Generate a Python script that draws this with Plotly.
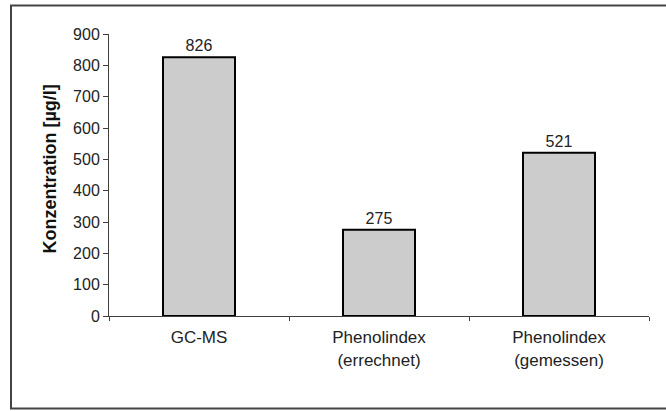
import plotly.graph_objects as go

# Concentration of phenols determined by different methods
categories = ["GC-MS", "Phenolindex<br>(errechnet)", "Phenolindex<br>(gemessen)"]
values = [826, 275, 521]
y_ticks = [0, 100, 200, 300, 400, 500, 600, 700, 800, 900]

W, H = 666, 411
ML, MR, MT, MB = 109, 17, 34, 95
plot_w = W - ML - MR
plot_h = H - MT - MB

FONT = "Liberation Sans, Arial, sans-serif"

fig = go.Figure(
    go.Bar(
        x=categories,
        y=values,
        width=0.4,
        marker=dict(color="#cccccc", line=dict(color="#000000", width=2)),
        text=[str(v) for v in values],
        textposition="outside",
        textfont=dict(family=FONT, size=16, color="#222222"),
        cliponaxis=False,
    )
)

fig.update_layout(
    width=W,
    height=H,
    margin=dict(l=ML, r=MR, t=MT, b=MB, pad=0),
    paper_bgcolor="white",
    plot_bgcolor="white",
    showlegend=False,
    font=dict(family=FONT, color="#222222"),
)

fig.update_xaxes(
    type="category",
    showline=True,
    linecolor="#404040",
    linewidth=1,
    ticks="outside",
    tickson="boundaries",
    ticklen=4,
    tickcolor="#404040",
    tickfont=dict(family=FONT, size=17, color="#222222"),
    ticklabelstandoff=6,
    showgrid=False,
    zeroline=False,
)

fig.update_yaxes(
    range=[0, 900],
    tickvals=y_ticks,
    showline=True,
    linecolor="#404040",
    linewidth=1,
    ticks="outside",
    ticklen=5,
    tickcolor="#404040",
    tickfont=dict(family=FONT, size=16, color="#222222"),
    showgrid=False,
    zeroline=False,
)

# Rotated axis title
fig.add_annotation(
    text="<b>Konzentration [µg/l]</b>",
    xref="paper", yref="paper",
    x=(49 - ML) / plot_w, y=(H - MB - 169.5) / plot_h,
    textangle=-90,
    showarrow=False,
    font=dict(family=FONT, size=18, color="#111111"),
    xanchor="center", yanchor="middle",
)

# Chart area frame
fig.add_shape(
    type="rect",
    xref="paper", yref="paper",
    x0=(11 - ML) / plot_w, x1=(W + 10 - ML) / plot_w,
    y0=(H - MB - 408.5) / plot_h, y1=(H - MB - 5.5) / plot_h,
    line=dict(color="#444444", width=2),
    fillcolor="rgba(0,0,0,0)",
    layer="below",
)

fig.write_html("out.html")
